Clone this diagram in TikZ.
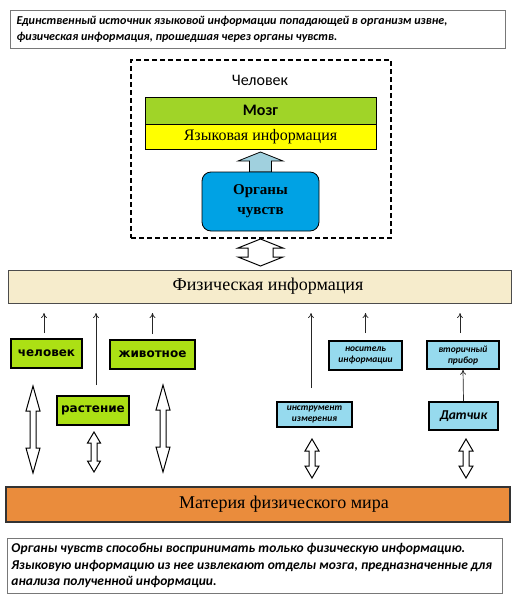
\documentclass[tikz,border=0pt]{standalone}
\usepackage{fontspec}
\setmainfont{Liberation Serif}
\newfontfamily\calib{Carlito}
\newfontfamily\tahf{DejaVu Sans}
\usetikzlibrary{arrows.meta}
\definecolor{mgreen}{RGB}{160,212,40}
\definecolor{lgreen}{RGB}{172,224,20}
\definecolor{myellow}{RGB}{255,255,0}
\definecolor{oblue}{RGB}{0,162,228}
\definecolor{arrblue}{RGB}{160,208,222}
\definecolor{beige}{RGB}{246,236,204}
\definecolor{morange}{RGB}{234,140,60}
\definecolor{sblue}{RGB}{150,218,238}
\definecolor{bgray}{RGB}{120,120,120}
\newcommand\hollowdbl[6]{% cx, ytop, ybot, half shaft, half head, head length
  \draw[line width=1pt,fill=white,line join=miter]
  (#1,#2) -- ({#1+#5},{#2+#6}) -- ({#1+#4},{#2+#6}) -- ({#1+#4},{#3-#6}) -- ({#1+#5},{#3-#6}) -- (#1,#3)
  -- ({#1-#5},{#3-#6}) -- ({#1-#4},{#3-#6}) -- ({#1-#4},{#2+#6}) -- ({#1-#5},{#2+#6}) -- cycle;}
\tikzset{
  textbox/.style={draw=bgray,line width=1pt,fill=white,align=left,anchor=center,inner sep=0pt},
  greenbox/.style={draw=black,line width=1.6pt,fill=lgreen,font=\tahf\bfseries\fontsize{12}{14}\selectfont},
  bluebox/.style={draw=black,line width=1.6pt,fill=sblue,align=center,font=\calib\bfseries\itshape\fontsize{9.5}{11}\selectfont},
  uparr/.style={-{To[length=5pt,width=6pt]},line width=0.7pt,black!85},
}
\begin{document}
\begin{tikzpicture}[x=1pt,y=-1pt]
\useasboundingbox (0,0) rectangle (521,600);
\fill[white] (0,0) rectangle (521,600);
% top text
\node[textbox,minimum width=495pt,minimum height=38pt] (topt) at (257.5,29)
 {\parbox{482pt}{\calib\bfseries\itshape\fontsize{12.1}{16}\selectfont Единственный источник языковой информации попадающей в организм извне,\\ физическая информация, прошедшая через органы чувств.}};
% dashed human box
\node[draw,dashed,line width=1.3pt,dash pattern=on 5pt off 3pt,minimum width=260pt,minimum height=178pt,inner sep=0pt] (human) at (261,149) {};
\node[font=\calib\fontsize{16}{18}\selectfont] (hlabel) at (260,80) {Человек};
\node[draw=black,line width=0.6pt,fill=mgreen,minimum width=231pt,minimum height=27pt,inner sep=0pt,font=\calib\bfseries\fontsize{16}{18}\selectfont] (mozg) at (260.5,110.5) {Мозг};
\node[draw=black,line width=0.6pt,fill=myellow,minimum width=231pt,minimum height=25pt,inner sep=0pt,font=\fontsize{16}{18}\selectfont] (yaz) at (260.5,136.5) {Языковая информация};
% light blue arrow
\draw[line width=0.8pt,fill=arrblue] (260.5,152) -- (283,161) -- (271.5,161) -- (271.5,172) -- (249.5,172) -- (249.5,161) -- (238,161) -- cycle;
\node[draw=black,line width=0.8pt,fill=oblue,rounded corners=9pt,minimum width=117pt,minimum height=59pt,align=center,font=\bfseries\fontsize{15}{20}\selectfont] (organs) at (260.5,201.5) {Органы\\чувств};
% human <-> fiz
\hollowdbl{260.5}{239}{266}{12.5}{22.5}{9}
% fiz
\node[draw=black!70,line width=1pt,fill=beige,minimum width=503pt,minimum height=33pt,inner sep=0pt,font=\fontsize{18}{20}\selectfont] (fiz) at (259.5,286.5) {\hspace*{17pt}Физическая информация};
% left nodes
\node[greenbox,minimum width=71pt,minimum height=29pt,inner sep=0pt] (chel) at (46.5,353.5) {человек};
\node[greenbox,minimum width=85pt,minimum height=29pt,inner sep=0pt] (zhiv) at (152.5,354.5) {животное};
\node[greenbox,minimum width=72pt,minimum height=29pt,inner sep=0pt] (rast) at (93,410.5) {растение};
% right nodes
\node[bluebox,minimum width=75pt,minimum height=25pt,inner sep=0pt] (instr) at (314.5,414.5) {инструмент\\измерения};
\node[bluebox,minimum width=73pt,minimum height=29pt,inner sep=0pt] (nosit) at (365.5,355.5) {носитель\\информации};
\node[bluebox,minimum width=72pt,minimum height=28pt,inner sep=0pt] (vtor) at (463,355) {вторичный\\прибор};
\node[bluebox,minimum width=69pt,minimum height=28pt,inner sep=0pt,font=\calib\bfseries\itshape\fontsize{13.5}{16}\selectfont] (datch) at (463.5,416) {Датчик};
% materia
\node[draw=black!80,line width=1.2pt,fill=morange,minimum width=504pt,minimum height=35pt,inner sep=0pt] (mat) at (258,504.5) {};
\node[font=\fontsize{18}{20}\selectfont] (matl) at (284,504.5) {Материя физического мира};
% bottom text
\node[textbox,minimum width=495pt,minimum height=55pt] (bott) at (254.5,565.5)
 {\parbox{486pt}{\calib\bfseries\itshape\fontsize{13.5}{16.5}\selectfont Органы чувств способны воспринимать только физическую информацию.\\ Языковую информацию из нее извлекают отделы мозга, предназначенные для\\ анализа полученной информации.}};
% thin arrows
\coordinate (a1s) at (44,334); \coordinate (a1e) at (44,313);
\draw[uparr] (chel.north -| a1s) ++(0,-5) -- (a1e);
\draw[uparr] ([yshift=5pt]zhiv.north) -- (zhiv.north |- a1e);
\draw[uparr] ([yshift=10pt,xshift=3pt]rast.north) -- ([xshift=3pt]rast.north |- a1e);
\draw[uparr] ([yshift=13pt,xshift=-3.5pt]instr.north) -- ([xshift=-3.5pt]instr.north |- a1e);
\draw[uparr] ([yshift=7pt]nosit.north) -- (nosit.north |- a1e);
\draw[uparr] ([yshift=7pt,xshift=-3pt]vtor.north) -- ([xshift=-3pt]vtor.north |- a1e);
\draw[uparr] (datch.north) -- (vtor.south);
% hollow double arrows
\hollowdbl{33}{386}{473}{3}{7}{25}
\hollowdbl{94}{432}{472}{3}{6.5}{11}
\hollowdbl{163}{385}{472}{3}{7}{25}
\hollowdbl{312}{439}{478}{3}{7}{12}
\hollowdbl{466}{439}{478}{3}{7}{12}
\end{tikzpicture}
\end{document}
